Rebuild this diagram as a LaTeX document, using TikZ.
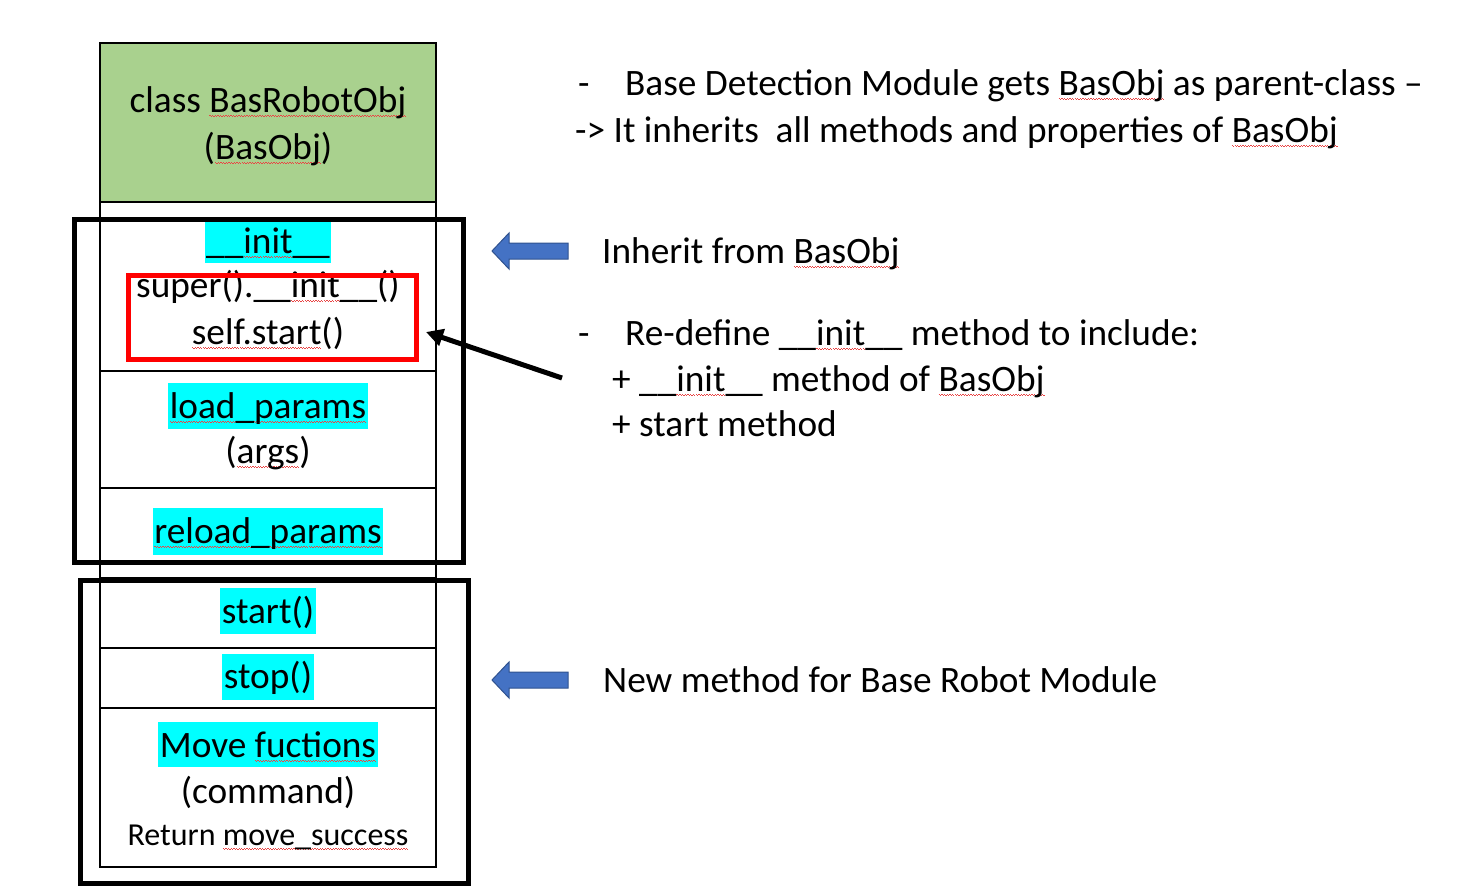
\documentclass[tikz,border=0pt]{standalone}
\usepackage{fontspec}
\setmainfont{Carlito}
\usetikzlibrary{arrows.meta}
\definecolor{squig}{HTML}{E84545}
\definecolor{rowgreen}{HTML}{A9D18E}
\definecolor{arrowblue}{HTML}{4472C4}
\definecolor{arrowedge}{HTML}{2F528F}
\definecolor{hlcyan}{HTML}{00FFFF}
\newsavebox{\sqwbox}
\newcommand\sqw[1]{\sbox{\sqwbox}{#1}\rlap{\textcolor{squig}{\hbox to \wd\sqwbox{\xleaders\hbox{\rule[-3.4pt]{1.3pt}{0.9pt}\rule[-4.6pt]{1.3pt}{0.9pt}}\hfil}}}\usebox{\sqwbox}}
\begin{document}
\begin{tikzpicture}[x=1pt,y=-1pt,
  every node/.style={font=\fontsize{37.3}{45.5}\selectfont},
  row/.style={draw=black, line width=1.5pt, minimum width=336pt, inner sep=0pt, outer sep=0pt},
  txt/.style={anchor=base, inner sep=0pt},
  lefttxt/.style={anchor=base west, inner sep=0pt},
  hl/.style={anchor=base, fill=hlcyan, inner xsep=1.5pt, inner ysep=0pt, text height=35pt, text depth=11pt},
  groupbox/.style={draw=black, line width=5pt, inner sep=0pt, outer sep=0pt},
  redframe/.style={draw=red, line width=5pt, inner sep=0pt, outer sep=0pt},
  blockarrow/.style={fill=arrowblue, draw=arrowedge, line width=1pt, line join=miter},
  pointer/.style={draw=black, line width=5pt, -{Triangle[length=17pt,width=17pt]}}
]
\useasboundingbox (0,0) rectangle (1465,895);

% ---- table rows ----
\node[row, fill=rowgreen, minimum height=159pt] (head) at (268,122.5) {};
\node[row, minimum height=169pt] (rinit) at (268,286.5) {};
\node[row, minimum height=117pt] (rload) at (268,429.5) {};
\node[row, minimum height=90pt]  (rreload) at (268,533) {};
\node[row, minimum height=70pt]  (rstart) at (268,613) {};
\node[row, minimum height=60pt]  (rstop) at (268,678) {};
\node[row, minimum height=159pt] (rmove) at (268,787.5) {};

% ---- table texts ----
\node[txt] (t-class) at (268,112) {class \sqw{BasRobotObj}};
\node[txt] (t-basobj) at (268,159) {(\sqw{BasObj})};

\node[hl, text height=31pt, text depth=10pt] (t-init) at (268,253) {\_\_\sqw{init}\_\_};
\node[txt] (t-super) at (268,297) {super().\_\_\sqw{init}\_\_()};
\node[txt] (t-self) at (268,344) {\sqw{self.start}()};

\node[hl] (t-load) at (268,418) {\sqw{load\_params}};
\node[txt] (t-args) at (268,463) {(\sqw{args})};

\node[hl, text depth=12pt] (t-reload) at (268,543) {\sqw{reload\_params}};

\node[hl] (t-start) at (268,623) {start()};
\node[hl, text height=34pt, text depth=12pt] (t-stop) at (268,688) {stop()};

\node[hl, text depth=10pt] (t-move) at (268,757) {Move \sqw{fuctions}};
\node[txt] (t-command) at (268,803) {(command)};
\node[txt, font=\fontsize{32}{39}\selectfont] (t-return) at (268,845) {Return \sqw{move\_success}};

% ---- frames ----
\node[redframe, minimum width=288pt, minimum height=83.5pt] (redbox) at (272,317.25) {};
\node[groupbox, minimum width=389pt, minimum height=343pt] (inherited) at (268.5,390.5) {};
\node[groupbox, minimum width=388pt, minimum height=303pt] (newmethods) at (274,731.5) {};

% ---- right side texts ----
\node[lefttxt] (n-l1) at (578,95) {\makebox[47pt][l]{-}Base Detection Module gets \sqw{BasObj} as parent-class~–};
\node[lefttxt] (n-l2) at (575,142) {-{}> It inherits\hspace{0.45em}all methods and properties of \sqw{BasObj}};

\node[lefttxt] (n-inherit) at (602,263) {Inherit from \sqw{BasObj}};

\node[lefttxt] (n-redef) at (578,345) {\makebox[47pt][l]{-}Re-define \_\_\sqw{init}\_\_ method to include:};
\node[lefttxt] (n-plus1) at (612,391) {+ \_\_\sqw{init}\_\_ method of \sqw{BasObj}};
\node[lefttxt] (n-plus2) at (612,436) {+ start method};

\node[lefttxt] (n-new) at (603,692) {New method for Base Robot Module};

% ---- block arrows ----
\draw[blockarrow] (492,251) -- (509,233) -- (509,243) -- (568,243) -- (568,259) -- (509,259) -- (509,269) -- cycle;
\draw[blockarrow] (492,680) -- (509,662) -- (509,672) -- (568,672) -- (568,688) -- (509,688) -- (509,698) -- cycle;

% ---- pointer arrow ----
\coordinate (ptr-tail) at (562,378);
\coordinate (ptr-head) at (426,332);
\draw[pointer] (ptr-tail) -- (ptr-head);
\end{tikzpicture}
\end{document}
